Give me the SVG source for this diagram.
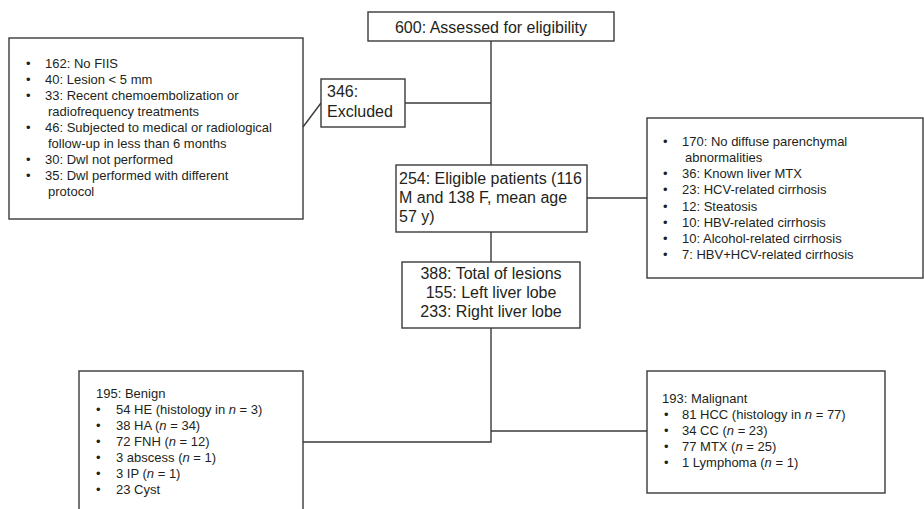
<svg xmlns="http://www.w3.org/2000/svg" width="924" height="509" viewBox="0 0 924 509">
<style>
.box{fill:#fff;stroke:#3a3a3a;stroke-width:1.4}
.ln{fill:none;stroke:#3a3a3a;stroke-width:1.4}
text{font-family:"Liberation Sans",Arial,sans-serif;fill:#231f20}
.m{font-size:16px}
.s{font-size:13px}
.c{text-anchor:middle}
</style>
<rect width="924" height="509" fill="#fff"/>
<g id="connectors">
<path class="ln" d="M491 41V165"/>
<path class="ln" d="M405 103H491"/>
<path class="ln" d="M303 127L321 103"/>
<path class="ln" d="M587 198H647"/>
<path class="ln" d="M491 232V262"/>
<path class="ln" d="M491 328V442H303"/>
<path class="ln" d="M491 431H647"/>
</g>
<g id="assessed">
<rect class="box" x="368" y="12" width="246" height="29"/>
<text class="m c" x="491" y="33">600: Assessed for eligibility</text>
</g>
<g id="excluded">
<rect class="box" x="321" y="79" width="84" height="48"/>
<text class="m" x="327" y="97">346:</text>
<text class="m" x="327" y="117">Excluded</text>
</g>
<g id="exclusion-reasons">
<rect class="box" x="9" y="38" width="294" height="181"/>
<g class="s">
<text x="26" y="68">•</text><text x="45" y="68">162: No FIIS</text>
<text x="26" y="84">•</text><text x="45" y="84">40: Lesion &lt; 5 mm</text>
<text x="26" y="100">•</text><text x="45" y="100">33: Recent chemoembolization or</text>
<text x="48" y="116">radiofrequency treatments</text>
<text x="26" y="132">•</text><text x="45" y="132">46: Subjected to medical or radiological</text>
<text x="48" y="148">follow-up in less than 6 months</text>
<text x="26" y="164">•</text><text x="45" y="164">30: Dwl not performed</text>
<text x="26" y="180">•</text><text x="45" y="180">35: Dwl performed with different</text>
<text x="48" y="196">protocol</text>
</g>
</g>
<g id="eligible">
<rect class="box" x="396" y="165" width="191" height="67"/>
<text class="m" x="399" y="184">254: Eligible patients (116</text>
<text class="m" x="399" y="203">M and 138 F, mean age</text>
<text class="m" x="399" y="222">57 y)</text>
</g>
<g id="patient-conditions">
<rect class="box" x="647" y="118" width="276" height="160"/>
<g class="s">
<text x="663" y="146">•</text><text x="682" y="146">170: No diffuse parenchymal</text>
<text x="685" y="162">abnormalities</text>
<text x="663" y="178">•</text><text x="682" y="178">36: Known liver MTX</text>
<text x="663" y="194">•</text><text x="682" y="194">23: HCV-related cirrhosis</text>
<text x="663" y="211">•</text><text x="682" y="211">12: Steatosis</text>
<text x="663" y="227">•</text><text x="682" y="227">10: HBV-related cirrhosis</text>
<text x="663" y="243">•</text><text x="682" y="243">10: Alcohol-related cirrhosis</text>
<text x="663" y="259">•</text><text x="682" y="259">7: HBV+HCV-related cirrhosis</text>
</g>
</g>
<g id="lesions">
<rect class="box" x="402" y="262" width="178" height="66"/>
<text class="m c" x="491" y="279">388: Total of lesions</text>
<text class="m c" x="491" y="298">155: Left liver lobe</text>
<text class="m c" x="491" y="317">233: Right liver lobe</text>
</g>
<g id="benign">
<rect class="box" x="79" y="371" width="224" height="142"/>
<g class="s">
<text x="96" y="398">195: Benign</text>
<text x="96" y="414">•</text><text x="116" y="414">54 HE (histology in <tspan font-style="italic">n</tspan> = 3)</text>
<text x="96" y="430">•</text><text x="116" y="430">38 HA (<tspan font-style="italic">n</tspan> = 34)</text>
<text x="96" y="446">•</text><text x="116" y="446">72 FNH (<tspan font-style="italic">n</tspan> = 12)</text>
<text x="96" y="462">•</text><text x="116" y="462">3 abscess (<tspan font-style="italic">n</tspan> = 1)</text>
<text x="96" y="478">•</text><text x="116" y="478">3 IP (<tspan font-style="italic">n</tspan> = 1)</text>
<text x="96" y="494">•</text><text x="116" y="494">23 Cyst</text>
</g>
</g>
<g id="malignant">
<rect class="box" x="647" y="371" width="238" height="122"/>
<g class="s">
<text x="662" y="403">193: Malignant</text>
<text x="664" y="419">•</text><text x="682" y="419">81 HCC (histology in <tspan font-style="italic">n</tspan> = 77)</text>
<text x="664" y="435">•</text><text x="682" y="435">34 CC (<tspan font-style="italic">n</tspan> = 23)</text>
<text x="664" y="451">•</text><text x="682" y="451">77 MTX (<tspan font-style="italic">n</tspan> = 25)</text>
<text x="664" y="467">•</text><text x="682" y="467">1 Lymphoma (<tspan font-style="italic">n</tspan> = 1)</text>
</g>
</g>
</svg>
